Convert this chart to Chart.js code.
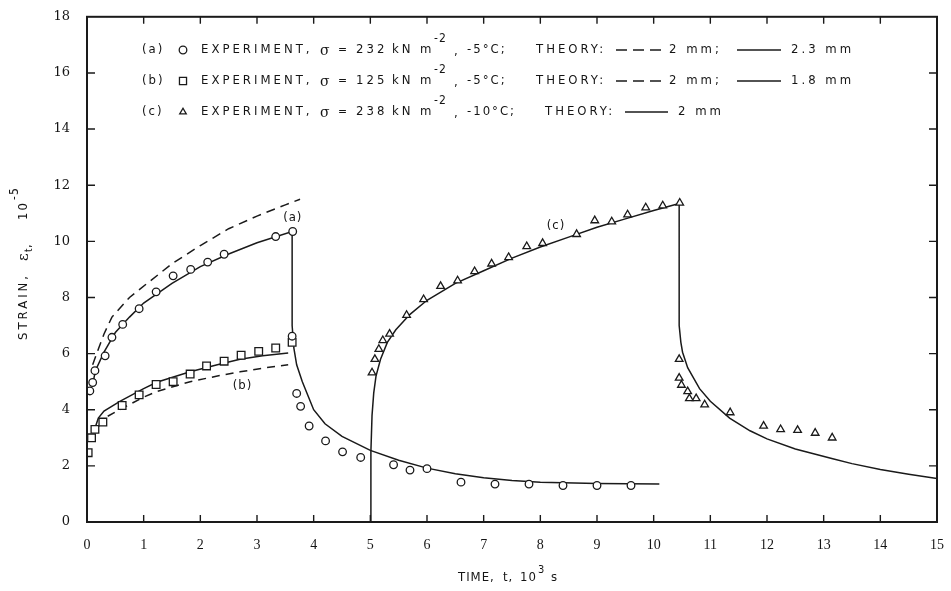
<!DOCTYPE html>
<html>
<head>
<meta charset="utf-8">
<script src="https://cdn.jsdelivr.net/npm/chart.js@4.4.0/dist/chart.umd.min.js"></script>
<style>
  html, body { margin: 0; padding: 0; background: #fff; }
</style>
</head>
<body>
<canvas id="chart" width="951" height="591"></canvas>
<script>
// axis ticks
const xTicks = [0, 1, 2, 3, 4, 5, 6, 7, 8, 9, 10, 11, 12, 13, 14, 15];
const yTicks = [0, 2, 4, 6, 8, 10, 12, 14, 16, 18];

// (a) experiment, circles: loading then recovery
const expA = [[0.05, 4.67], [0.10, 4.97], [0.14, 5.39], [0.32, 5.92], [0.44, 6.58], [0.63, 7.04], [0.92, 7.6],
  [1.22, 8.2], [1.52, 8.77], [1.83, 9.0], [2.13, 9.26], [2.42, 9.54], [3.33, 10.17], [3.63, 10.35], [3.62, 6.62],
  [3.70, 4.58], [3.77, 4.12], [3.92, 3.42], [4.21, 2.89], [4.51, 2.5], [4.83, 2.3], [5.41, 2.04], [5.70, 1.85],
  [6.0, 1.9], [6.6, 1.42], [7.2, 1.35], [7.8, 1.35], [8.4, 1.3], [9.0, 1.3], [9.6, 1.3]];

// (b) experiment, squares
const expB = [[0.02, 2.47], [0.08, 3.0], [0.14, 3.3], [0.28, 3.56], [0.62, 4.15], [0.92, 4.53], [1.22, 4.9],
  [1.52, 5.0], [1.82, 5.27], [2.11, 5.56], [2.42, 5.73], [2.72, 5.94], [3.03, 6.08], [3.33, 6.2], [3.62, 6.4]];

// (c) experiment, triangles
const expC = [[5.03, 5.32], [5.08, 5.8], [5.15, 6.16], [5.22, 6.47], [5.34, 6.7], [5.64, 7.37], [5.94, 7.93],
  [6.24, 8.4], [6.54, 8.6], [6.84, 8.93], [7.14, 9.2], [7.44, 9.43], [7.76, 9.82], [8.04, 9.93], [8.64, 10.25],
  [8.96, 10.74], [9.26, 10.7], [9.54, 10.95], [9.86, 11.2], [10.16, 11.27], [10.46, 11.37],
  [10.45, 5.8], [10.45, 5.13], [10.49, 4.88], [10.6, 4.65], [10.63, 4.4], [10.75, 4.4], [10.9, 4.18],
  [11.35, 3.9], [11.94, 3.42], [12.24, 3.3], [12.54, 3.27], [12.85, 3.17], [13.15, 3.0]];

// theory curves
const theoryA23 = [[0.1, 4.9], [0.15, 5.4], [0.3, 6.05], [0.5, 6.75], [0.75, 7.3], [1.0, 7.8], [1.5, 8.5],
  [2.0, 9.1], [2.5, 9.55], [3.0, 9.95], [3.62, 10.35], [3.62, 7.0], [3.65, 6.2], [3.7, 5.6], [3.8, 5.0],
  [3.9, 4.5], [4.0, 4.0], [4.2, 3.5], [4.5, 3.05], [5.0, 2.55], [5.5, 2.2], [6.0, 1.92], [6.5, 1.72],
  [7.0, 1.58], [7.5, 1.48], [8.0, 1.42], [9.0, 1.37], [10.1, 1.35]];
const theoryA2 = [[0.1, 5.6], [0.18, 6.05], [0.3, 6.7], [0.44, 7.3], [0.75, 8.0], [1.06, 8.5], [1.5, 9.2],
  [2.0, 9.85], [2.5, 10.45], [3.0, 10.9], [3.5, 11.3], [3.76, 11.5]];
const theoryB18 = [[0.15, 3.4], [0.2, 3.7], [0.3, 3.95], [0.58, 4.3], [1.0, 4.75], [1.23, 4.98], [1.82, 5.35],
  [2.3, 5.6], [2.7, 5.8], [3.1, 5.92], [3.55, 6.02]];
const theoryB2 = [[0.2, 3.4], [0.35, 3.75], [0.62, 4.05], [1.0, 4.45], [1.23, 4.65], [1.82, 5.0], [2.3, 5.2],
  [2.7, 5.35], [3.1, 5.48], [3.55, 5.6]];
const theoryC = [[5.0, 0], [5.01, 2.5], [5.03, 3.8], [5.06, 4.6], [5.1, 5.2], [5.18, 5.8], [5.3, 6.4],
  [5.45, 6.85], [5.7, 7.4], [6.0, 7.9], [6.5, 8.5], [7.0, 8.95], [7.5, 9.4], [8.0, 9.8], [8.5, 10.15],
  [9.0, 10.5], [9.5, 10.8], [10.0, 11.1], [10.45, 11.35], [10.45, 7.0], [10.48, 6.4], [10.51, 6.05],
  [10.6, 5.5], [10.81, 4.75], [11.0, 4.3], [11.34, 3.7], [11.7, 3.25], [12.0, 2.96], [12.5, 2.6],
  [13.16, 2.25], [13.5, 2.08], [14.0, 1.87], [14.5, 1.7], [15.0, 1.55]];

const pts = arr => arr.map(([x, y]) => ({ x, y }));
const INK = '#1a1a1a';
const TXT = '#151515';

const lineSet = (data, dash) => ({
  data: pts(data), showLine: true, borderColor: INK, borderWidth: 1.5, borderDash: dash || [],
  pointRadius: 0, tension: 0, order: 2,
});
const markSet = (data, style, r) => ({
  data: pts(data), showLine: false, pointStyle: style, pointRadius: r,
  pointBorderColor: INK, pointBackgroundColor: '#fff', pointBorderWidth: 1.3, order: 1,
});

function text(ctx, s, x, y, size = 13, spacing = 3, font = '"DejaVu Sans Condensed"') {
  ctx.font = `${size}px ${font}`;
  ctx.letterSpacing = spacing + 'px';
  ctx.fillText(s, x, y);
}

const legendRows = [
  { tag: '(a)', mark: 'circle', sigma: '232', temp: '-5°C;', dashed: true, solid: '2.3 mm' },
  { tag: '(b)', mark: 'rect', sigma: '125', temp: '-5°C;', dashed: true, solid: '1.8 mm' },
  { tag: '(c)', mark: 'triangle', sigma: '238', temp: '-10°C;', dashed: false, solid: '2 mm' },
];

const decor = {
  id: 'decor',
  afterDraw(chart) {
    const { ctx, chartArea: a, scales: { x, y } } = chart;
    ctx.save();
    // frame and inward ticks
    ctx.strokeStyle = INK;
    ctx.lineWidth = 2;
    ctx.strokeRect(a.left, a.top, a.right - a.left, a.bottom - a.top);
    ctx.lineWidth = 1.4;
    ctx.beginPath();
    xTicks.slice(1, -1).forEach(v => {
      const px = x.getPixelForValue(v);
      ctx.moveTo(px, a.bottom); ctx.lineTo(px, a.bottom - 7);
      ctx.moveTo(px, a.top); ctx.lineTo(px, a.top + 7);
    });
    yTicks.slice(1, -1).forEach(v => {
      const py = y.getPixelForValue(v);
      ctx.moveTo(a.left, py); ctx.lineTo(a.left + 8, py);
      ctx.moveTo(a.right, py); ctx.lineTo(a.right - 8, py);
    });
    ctx.stroke();

    ctx.textBaseline = 'middle';
    ctx.textAlign = 'left';

    // legend block
    legendRows.forEach((r, i) => {
      const ly = 50 + i * 31;
      ctx.fillStyle = '#fff';
      ctx.strokeStyle = INK;
      ctx.lineWidth = 1.3;
      Chart.helpers.drawPoint(ctx, { pointStyle: r.mark, radius: r.mark === 'rect' ? 5 : 3.8, borderWidth: 1.3 }, 183, ly);
      ctx.fillStyle = TXT;
      text(ctx, r.tag, 142, ly, 13, 2);
      text(ctx, 'EXPERIMENT,', 201, ly, 13, 3);
      text(ctx, 'σ', 320, ly + 1, 14, 0, '"DejaVu Serif"');
      text(ctx, '=', 338, ly, 12, 0);
      text(ctx, r.sigma, 356, ly, 13, 3);
      text(ctx, 'kN', 392, ly, 13, 3);
      text(ctx, 'm', 420, ly, 13, 0);
      text(ctx, '-2', 434, ly - 11, 12, 1);
      text(ctx, ',', 454, ly + 2, 13, 0);
      text(ctx, r.temp, 467, ly, 13, 2);
      const th = r.dashed ? 536 : 545;
      text(ctx, 'THEORY:', th, ly, 13, 3);
      ctx.lineWidth = 1.6;
      ctx.beginPath();
      if (r.dashed) {
        ctx.setLineDash([11, 6]);
        ctx.moveTo(616, ly); ctx.lineTo(665, ly);
        ctx.stroke();
        ctx.setLineDash([]);
        text(ctx, '2 mm;', 669, ly, 13, 3);
        ctx.beginPath();
        ctx.moveTo(737, ly); ctx.lineTo(781, ly);
        ctx.stroke();
        text(ctx, r.solid, 791, ly, 13, 3);
      } else {
        ctx.moveTo(625, ly); ctx.lineTo(668, ly);
        ctx.stroke();
        text(ctx, r.solid, 678, ly, 13, 3);
      }
    });

    // curve labels
    const lab = (s, vx, vy) => text(ctx, s, x.getPixelForValue(vx) - 9, y.getPixelForValue(vy), 13, 1);
    lab('(a)', 3.62, 10.85);
    lab('(b)', 2.73, 4.85);
    lab('(c)', 8.27, 10.56);

    // x title
    text(ctx, 'TIME,', 458, 578, 13, 1);
    text(ctx, 't,', 503, 578, 13, 1);
    text(ctx, '10', 520, 578, 13, 1);
    text(ctx, '3', 538, 570, 11, 0);
    text(ctx, 's', 551, 578, 13, 0);

    // y title
    ctx.translate(24, 260);
    ctx.rotate(-Math.PI / 2);
    text(ctx, 'STRAIN,', -80, 0, 13, 3);
    text(ctx, 'ε', -1, 0, 15, 0, '"DejaVu Serif"');
    text(ctx, 't', 8, 5, 10, 0);
    text(ctx, ',', 12, 4, 13, 0);
    text(ctx, '10', 40, 0, 13, 2);
    text(ctx, '-5', 60, -9, 12, 1);
    ctx.restore();
  },
};

new Chart(document.getElementById('chart'), {
  type: 'scatter',
  data: {
    datasets: [
      markSet(expA, 'circle', 3.8),
      markSet(expB, 'rect', 5.4),
      markSet(expC, 'triangle', 4.4),
      lineSet(theoryA23),
      lineSet(theoryA2, [9, 6]),
      lineSet(theoryB18),
      lineSet(theoryB2, [8, 6]),
      lineSet(theoryC),
    ],
  },
  options: {
    responsive: false,
    animation: false,
    layout: { padding: { top: 10, right: 14, left: 0, bottom: 0 } },
    plugins: { legend: { display: false }, tooltip: { enabled: false } },
    scales: {
      x: {
        type: 'linear', min: 0, max: 15,
        afterBuildTicks: s => { s.ticks = xTicks.map(v => ({ value: v })); },
        afterFit: s => { s.height = 69; },
        grid: { display: false },
        border: { display: false },
        ticks: { color: TXT, padding: 7, font: { family: '"Liberation Sans Narrow"', size: 14 }, maxRotation: 0 },
      },
      y: {
        type: 'linear', min: 0, max: 18,
        afterBuildTicks: s => { s.ticks = yTicks.map(v => ({ value: v })); },
        afterFit: s => { s.width = 87; },
        grid: { display: false },
        border: { display: false },
        ticks: { color: TXT, padding: 9, font: { family: '"DejaVu Serif"', size: 13 } },
      },
    },
  },
  plugins: [decor],
});
</script>
</body>
</html>
